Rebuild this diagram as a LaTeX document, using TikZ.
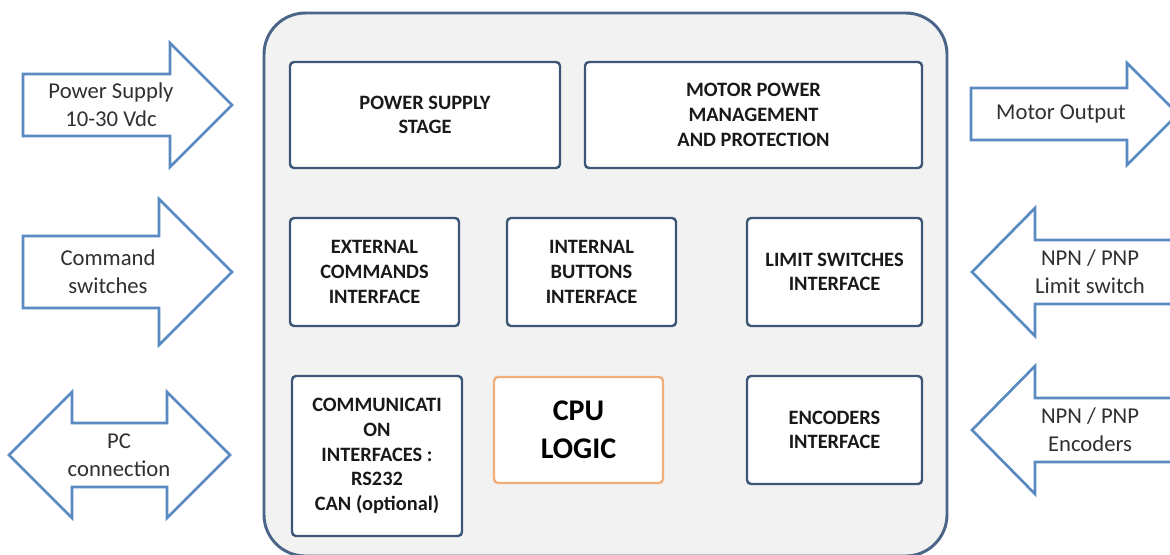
\documentclass[tikz,border=0pt]{standalone}
\usepackage{fontspec}
\setmainfont{Carlito}
\usepackage{tikz}

\definecolor{arrowblue}{HTML}{5B8AC2}
\definecolor{boardedge}{HTML}{4A6588}
\definecolor{boxedge}{HTML}{3E5676}
\definecolor{boardfill}{HTML}{F2F2F2}
\definecolor{cpuedge}{HTML}{F2AE78}
\definecolor{textgray}{HTML}{303030}

\tikzset{
    sidearrow/.style={draw=arrowblue, line width=2pt, fill=white, line join=miter},
    sidetext/.style={align=center, text=textgray, font=\fontsize{17}{21}\selectfont},
    board/.style={draw=boardedge, line width=2.2pt, fill=boardfill, rounded corners=31pt},
    block/.style={draw=boxedge, line width=1.8pt, fill=white, rounded corners=3pt},
    cpublock/.style={draw=cpuedge, line width=1.8pt, fill=white, rounded corners=3pt},
    boxtext/.style={align=center, text=black!90, font=\bfseries\fontsize{15.3}{18.5}\selectfont},
    cputext/.style={align=center, text=black, font=\bfseries\fontsize{22.5}{28.5}\selectfont}
}
% arrow pointing right: x start, x head, x tip, y centre, half body, half head
\newcommand{\arrowRight}[6] {
	\draw[sidearrow] (#1,#4-#5) -- (#2,#4-#5) -- (#2,#4-#6) -- (#3,#4) -- (#2,#4+#6) -- (#2,#4+#5) -- (#1,#4+#5) -- cycle;
}
% arrow pointing left: x tip, x head, x end, y centre, half body, half head
\newcommand{\arrowLeft}[6] {
	\draw[sidearrow] (#1,#4) -- (#2,#4-#6) -- (#2,#4-#5) -- (#3,#4-#5) -- (#3,#4+#5) -- (#2,#4+#5) -- (#2,#4+#6) -- cycle;
}
% box with named text node in its centre
\newcommand{\block}[7] {
	\draw[#7] (#2,#3) rectangle (#4,#5);
	\node[boxtext] (#1) at ({(#2+#4)/2},{(#3+#5)/2}) {#6};
}

\begin{document}
\begin{tikzpicture}[x=0.75pt,y=-0.75pt]
		\useasboundingbox (0,0) rectangle (1170,554);

		% board
		\draw[board] (264,13) rectangle (947,556);

		% top row
		\block{pss}{290}{62}{560}{168}{POWER SUPPLY\\STAGE}{block}
		\block{motor}{585}{62}{922}{168}{MOTOR POWER\\MANAGEMENT\\AND PROTECTION}{block}

		% middle row
		\block{extcmd}{290}{218}{459}{326}{EXTERNAL\\COMMANDS\\INTERFACE}{block}
		\block{intbtn}{507}{218}{676}{326}{INTERNAL\\BUTTONS\\INTERFACE}{block}
		\block{limits}{747}{218}{922}{326}{LIMIT SWITCHES\\INTERFACE}{block}

		% bottom row
		\block{comm}{292}{376}{462}{536}{COMMUNICATI\\ON\\INTERFACES :\\RS232\\CAN (optional)}{block}
		\draw[cpublock] (494,377) rectangle (663,483);
		\node[cputext] (cpu) at (578.5,430) {CPU\\LOGIC};
		\block{enc}{747}{376}{922}{484}{ENCODERS\\INTERFACE}{block}

		% inputs, left
		\arrowRight{23}{170}{232}{105}{31}{62}
		\node[sidetext] (psin) at (111,105) {Power Supply\\10-30 Vdc};

		\arrowRight{23}{159}{232}{272}{36}{73}
		\node[sidetext] (cmdin) at (108,272) {Command\\switches};

		\draw[sidearrow] (9,455) -- (72,392) -- (72,423) -- (167,423) -- (167,392) -- (230,455)
			-- (167,518) -- (167,487) -- (72,487) -- (72,518) -- cycle;
		\node[sidetext] (pc) at (119,455) {PC\\connection};

		% outputs and sensors, right
		\arrowRight{971}{1127}{1178}{114}{26}{51}
		\node[sidetext] (motorout) at (1061,114) {Motor Output};

		\arrowLeft{972}{1035}{1190}{272}{32}{64}
		\node[sidetext] (limitin) at (1090,272) {NPN / PNP\\Limit switch};

		\arrowLeft{972}{1035}{1190}{430}{32}{64}
		\node[sidetext] (encin) at (1090,430) {NPN / PNP\\Encoders};

	\end{tikzpicture}
\end{document}
